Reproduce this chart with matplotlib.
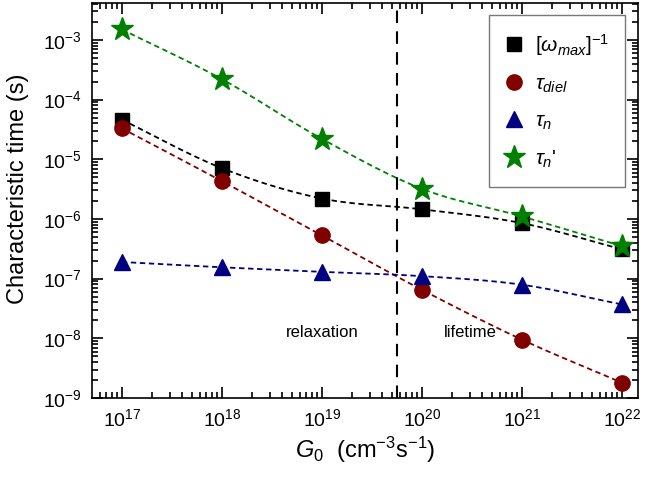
import numpy as np
import matplotlib
matplotlib.use("Agg")
import matplotlib.pyplot as plt
from matplotlib.ticker import LogLocator, NullFormatter

plt.rcParams['font.family'] = ['Liberation Sans', 'DejaVu Sans']
plt.rcParams['mathtext.fontset'] = 'custom'
plt.rcParams['mathtext.rm'] = 'Liberation Sans'
plt.rcParams['mathtext.it'] = 'Liberation Sans:italic'

# data
G0 = [1e17, 1e18, 1e19, 1e20, 1e21, 1e22]
omega_inv = [4.6e-5, 7.1e-6, 2.2e-6, 1.45e-6, 8.5e-7, 3.1e-7]
tau_diel = [3.3e-5, 4.3e-6, 5.3e-7, 6.5e-8, 9.5e-9, 1.8e-9]
tau_n = [1.9e-7, 1.55e-7, 1.3e-7, 1.1e-7, 7.9e-8, 3.7e-8]
tau_n_prime = [1.5e-3, 2.2e-4, 2.2e-5, 3.2e-6, 1.1e-6, 3.5e-7]
G_boundary = 5.6e19


def smooth(xs, ys, n=20):
    # catmull-rom through the points, in log-log space
    lx = np.log10(xs)
    ly = np.log10(ys)
    px = np.concatenate([[2 * lx[0] - lx[1]], lx, [2 * lx[-1] - lx[-2]]])
    py = np.concatenate([[2 * ly[0] - ly[1]], ly, [2 * ly[-1] - ly[-2]]])
    ox, oy = [], []
    t = np.linspace(0, 1, n, endpoint=False)
    for i in range(1, len(px) - 2):
        for p, o in ((px, ox), (py, oy)):
            p0, p1, p2, p3 = p[i - 1], p[i], p[i + 1], p[i + 2]
            o.extend(0.5 * (2 * p1 + (-p0 + p2) * t
                            + (2 * p0 - 5 * p1 + 4 * p2 - p3) * t ** 2
                            + (-p0 + 3 * p1 - 3 * p2 + p3) * t ** 3))
    ox.append(lx[-1])
    oy.append(ly[-1])
    return 10 ** np.array(ox), 10 ** np.array(oy)


fig = plt.figure(figsize=(6.51, 4.83), dpi=100)
ax = fig.add_axes([0.141, 0.176, 0.839, 0.818])

series = [
    (omega_inv, 'black', 's', 10, r'$[\omega_{max}]^{\mathrm{-1}}$'),
    (tau_diel, '#800000', 'o', 11, r'$\tau_{diel}$'),
    (tau_n, '#000080', '^', 12, r'$\tau_n$'),
    (tau_n_prime, 'green', '*', 17, r"$\tau_n$'"),
]
for ys, c, m, ms, lab in series:
    sx, sy = smooth(G0, ys)
    ax.plot(sx, sy, '--', color=c, lw=1.3, dashes=(3, 2))
    ax.plot(G0, ys, m, color=c, ms=ms, mec=c, label=lab, linestyle='none')

ax.axvline(G_boundary, color='black', lw=1.5, dashes=(6, 4))

ax.set_xscale('log')
ax.set_yscale('log')
ax.set_xlim(10 ** 16.7, 10 ** 22.16)
ax.set_ylim(1e-9, 10 ** -2.38)

ax.xaxis.set_major_locator(LogLocator(base=10, numticks=20))
ax.xaxis.set_minor_locator(LogLocator(base=10, subs=np.arange(2, 10), numticks=50))
ax.yaxis.set_major_locator(LogLocator(base=10, numticks=20))
ax.yaxis.set_minor_locator(LogLocator(base=10, subs=np.arange(2, 10), numticks=50))
ax.xaxis.set_minor_formatter(NullFormatter())
ax.yaxis.set_minor_formatter(NullFormatter())

ax.tick_params(which='both', direction='in', top=True, right=True, width=1.2)
ax.tick_params(which='major', length=8, labelsize=14, pad=7)
ax.tick_params(which='minor', length=4)
for s in ax.spines.values():
    s.set_linewidth(1.2)

ax.text(1e19, 10 ** -7.9, 'relaxation', ha='center', va='center', fontsize=12)
ax.text(10 ** 20.48, 10 ** -7.9, 'lifetime', ha='center', va='center', fontsize=12)

ax.set_ylabel('Characteristic time (s)', fontsize=17, labelpad=6)
ax.yaxis.set_label_coords(-0.115, 0.53)
ax.set_xlabel(r'$G_0$  (cm$^{\mathrm{-3}}$s$^{\mathrm{-1}}$)', fontsize=17, labelpad=4)

leg = ax.legend(loc='upper right', fontsize=15, frameon=True, fancybox=False,
                edgecolor='#555555', borderpad=0.8, labelspacing=0.8,
                handletextpad=0.6, borderaxespad=0.6, handlelength=0.8)
leg.get_frame().set_linewidth(1.0)

fig.savefig('out.png', dpi=100)
